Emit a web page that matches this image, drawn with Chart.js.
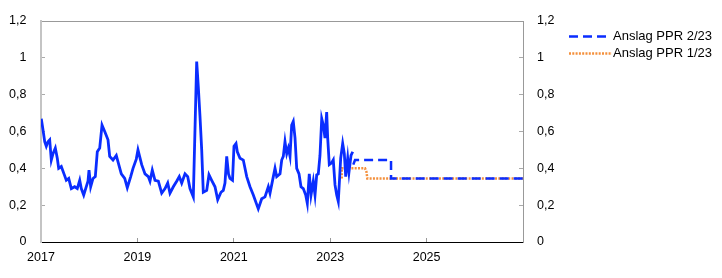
<!DOCTYPE html>
<html>
<head>
<meta charset="utf-8">
<script src="https://cdn.jsdelivr.net/npm/chart.js@4"></script>
<style>
  html, body { margin: 0; padding: 0; background: #fff; }
  #wrap { position: relative; width: 722px; height: 278px; }
  #legend { position: absolute; left: 569px; top: 28px; font: 13px "Liberation Sans", Arial, sans-serif; color: #000; }
  .row { position: relative; height: 16.5px; line-height: 16.5px; padding-left: 44px; white-space: nowrap; }
  .row svg { position: absolute; left: 0; top: 0; }
</style>
</head>
<body>
<div id="wrap">
  <canvas id="chart" width="722" height="278"></canvas>
  <div id="legend">
    <div class="row">
      <svg width="44" height="17"><line x1="0" y1="8.5" x2="37" y2="8.5" stroke="#0a2dff" stroke-width="2.5" stroke-dasharray="9,5"/></svg>
      Anslag PPR 2/23
    </div>
    <div class="row">
      <svg width="44" height="17"><line x1="0" y1="8.5" x2="43" y2="8.5" stroke="#f4903c" stroke-width="2.5" stroke-dasharray="2,1.3"/></svg>
      Anslag PPR 1/23
    </div>
  </div>
</div>
<script>
// Observed series (decimal years)
const years = [
  2017.006, 2017.041, 2017.077, 2017.110, 2017.145, 2017.180, 2017.214, 2017.249, 2017.297, 2017.338,
  2017.367, 2017.421, 2017.477, 2017.525, 2017.575, 2017.629, 2017.699, 2017.753, 2017.803, 2017.836,
  2017.886, 2017.927, 2017.975, 2017.996,
  2018.031, 2018.079, 2018.127, 2018.168, 2018.218, 2018.266, 2018.322, 2018.390, 2018.425, 2018.494,
  2018.562, 2018.598, 2018.666, 2018.737, 2018.790, 2018.861, 2018.909, 2018.977,
  2019.012, 2019.089, 2019.158, 2019.226, 2019.261, 2019.309, 2019.365, 2019.434, 2019.504, 2019.573,
  2019.629, 2019.676, 2019.745, 2019.815, 2019.869, 2019.919, 2019.988,
  2020.044, 2020.091, 2020.160, 2020.230, 2020.263, 2020.299, 2020.334, 2020.367, 2020.438, 2020.485,
  2020.541, 2020.610, 2020.666, 2020.734, 2020.782, 2020.817, 2020.853, 2020.890, 2020.921, 2020.973,
  2021.004, 2021.046, 2021.073, 2021.129, 2021.197, 2021.268, 2021.336, 2021.405, 2021.508, 2021.579,
  2021.647, 2021.716, 2021.751, 2021.820, 2021.855, 2021.890, 2021.959, 2021.994,
  2022.027, 2022.062, 2022.098, 2022.131, 2022.166, 2022.201, 2022.234, 2022.270, 2022.305, 2022.353,
  2022.394, 2022.442, 2022.492, 2022.525, 2022.566, 2022.602, 2022.649, 2022.685, 2022.720, 2022.753,
  2022.788, 2022.824, 2022.857, 2022.892, 2022.927, 2022.948, 2022.981,
  2023.031, 2023.064, 2023.100, 2023.135, 2023.168, 2023.218, 2023.259, 2023.293, 2023.322, 2023.363,
  2023.390, 2023.432, 2023.467
];
const values = [
  0.67, 0.61, 0.545, 0.52, 0.545, 0.555, 0.445, 0.48, 0.51, 0.455,
  0.40, 0.41, 0.37, 0.335, 0.345, 0.29, 0.30, 0.29, 0.335, 0.29,
  0.255, 0.29, 0.33, 0.39,
  0.30, 0.345, 0.355, 0.49, 0.51, 0.635, 0.60, 0.555, 0.465, 0.445,
  0.47, 0.435, 0.37, 0.345, 0.295, 0.355, 0.40, 0.45,
  0.50, 0.42, 0.37, 0.355, 0.33, 0.39, 0.335, 0.33, 0.265, 0.29,
  0.32, 0.265, 0.30, 0.33, 0.355, 0.32, 0.37,
  0.355, 0.29, 0.245, 0.98, 0.845, 0.68, 0.50, 0.27, 0.28, 0.365,
  0.335, 0.30, 0.23, 0.27, 0.28, 0.32, 0.465, 0.37, 0.345, 0.335,
  0.52, 0.535, 0.49, 0.455, 0.445, 0.355, 0.30, 0.255, 0.18, 0.235,
  0.245, 0.30, 0.265, 0.355, 0.40, 0.355, 0.37, 0.445,
  0.465, 0.545, 0.48, 0.51, 0.465, 0.635, 0.655, 0.565, 0.40, 0.37,
  0.30, 0.29, 0.255, 0.21, 0.37, 0.255, 0.33, 0.255, 0.365, 0.37,
  0.47, 0.67, 0.635, 0.565, 0.705, 0.565, 0.42,
  0.43, 0.445, 0.31, 0.255, 0.22, 0.455, 0.535, 0.48, 0.355, 0.455,
  0.38, 0.47, 0.49
];

// Forecasts
const ppr223Years  = [2023.479, 2023.515, 2024.262, 2024.262, 2027.0];
const ppr223Values = [0.42, 0.445, 0.445, 0.345, 0.345];
const ppr123Years  = [2023.239, 2023.239, 2023.722, 2023.753, 2023.770, 2027.0];
const ppr123Values = [0.345, 0.40, 0.40, 0.38, 0.345, 0.345];

// Axis ticks
const yearTicks = [2017, 2019, 2021, 2023, 2025];
const yMin = 0, yMax = 1.2, yStep = 0.2;

const BLUE = '#0a2dff';
const ORANGE = '#f4903c';
const FONT = { family: '"Liberation Sans", Arial, sans-serif', size: 12.5 };

function toPoints(xs, ys) {
  return xs.map((x, i) => ({ x, y: ys[i] }));
}

function fmtNum(v) {
  return String(Number(v.toFixed(1))).replace('.', ',');
}

// y axes: fixed width, no extra top/bottom padding from label offset
const yAxis = (position, width, padding, border) => ({
  position, min: yMin, max: yMax,
  afterFit: s => { s.width = width; s.paddingTop = 0; s.paddingBottom = 0; },
  ticks: { stepSize: yStep, autoSkip: false, padding, color: '#000', font: FONT, callback: fmtNum },
  grid: { drawOnChartArea: false, drawTicks: true, tickLength: -4, color: '#aaa' },
  border
});

new Chart(document.getElementById('chart'), {
  type: 'line',
  data: {
    datasets: [
      { data: toPoints(years, values), borderColor: BLUE, borderWidth: 2.8 },
      { data: toPoints(ppr223Years, ppr223Values), borderColor: BLUE, borderWidth: 2.5, borderDash: [9, 5] },
      { data: toPoints(ppr123Years, ppr123Values), borderColor: ORANGE, borderWidth: 2.5, borderDash: [2, 1.3] }
    ]
  },
  options: {
    responsive: false,
    animation: false,
    devicePixelRatio: 1,
    layout: { padding: { left: 0, right: 159, top: 21, bottom: 0 } },
    elements: { point: { radius: 0 }, line: { tension: 0, borderCapStyle: 'butt', borderJoinStyle: 'miter' } },
    plugins: { legend: { display: false }, tooltip: { enabled: false } },
    scales: {
      x: {
        type: 'linear', position: 'bottom', min: 2017, max: 2027,
        afterBuildTicks: s => { s.ticks = yearTicks.map(v => ({ value: v })); },
        afterFit: s => { s.height = 36; },
        ticks: { autoSkip: false, maxRotation: 0, padding: 12, color: '#000', font: FONT, callback: v => String(v) },
        grid: { drawOnChartArea: false, drawTicks: true, tickLength: -4, color: '#999' },
        border: { color: '#000', width: 1 }
      },
      xTop: {
        type: 'linear', position: 'top', min: 2017, max: 2027,
        afterFit: s => { s.height = 0; },
        ticks: { display: false },
        grid: { display: false },
        border: { color: '#999', width: 1 }
      },
      y: yAxis('left', 41, 18.5, { color: '#c4c4c4', width: 2 }),
      y2: yAxis('right', 40, 18, { color: '#999', width: 1 })
    }
  }
});
</script>
</body>
</html>
